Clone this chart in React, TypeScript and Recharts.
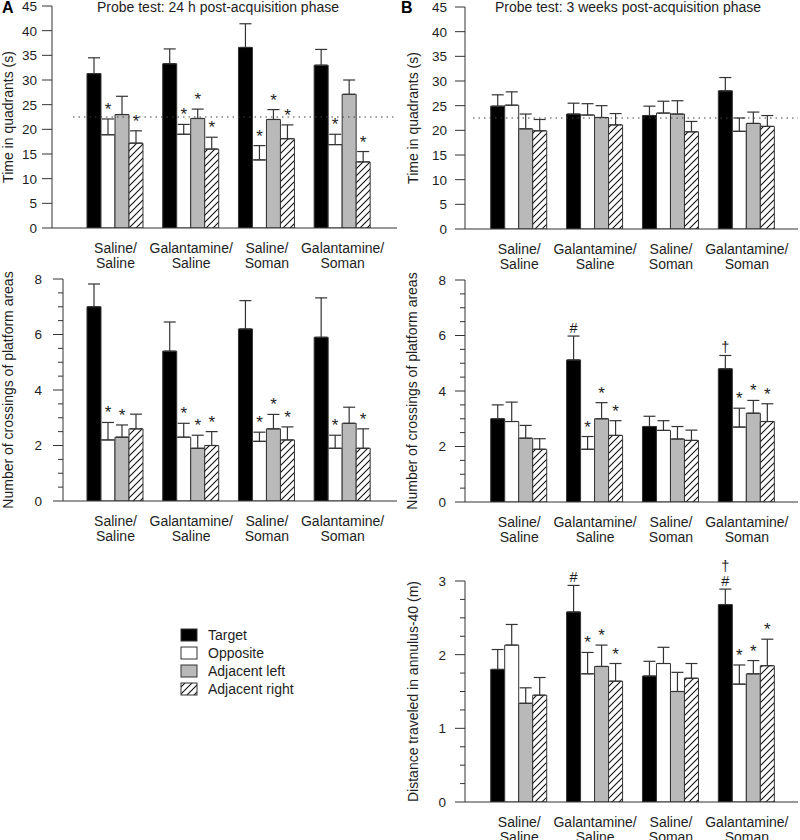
import React from "react";
import { BarChart, Bar, XAxis, YAxis, ErrorBar, LabelList, ReferenceLine } from "recharts";

const FONT = '"Liberation Sans", Arial, Helvetica, sans-serif';
const INK = "#1e1e1e";
const EDGE = "#333333";
const GRAY = "#b9b9b9";
const TXT = 14;

// ---------- data ----------
const categories = ["Saline/Saline", "Galantamine/Saline", "Saline/Soman", "Galantamine/Soman"];
const seriesNames = ["Target", "Opposite", "Adjacent left", "Adjacent right"];
const seriesKeys = ["target", "opposite", "adjLeft", "adjRight"];

const timeTicks = [0, 5, 10, 15, 20, 25, 30, 35, 40, 45];
const crossingTicks = [0, 0.5, 1, 1.5, 2, 2.5, 3, 3.5, 4, 4.5, 5, 5.5, 6, 6.5, 7, 7.5, 8];
const distanceTicks = [0, 0.25, 0.5, 0.75, 1, 1.25, 1.5, 1.75, 2, 2.25, 2.5, 2.75, 3];
const chanceLevel = 22.5;

// Panel A: time in quadrants, 24 h (rows: Target, Opposite, Adjacent left, Adjacent right)
const timeA_mean = [
  [31.3, 33.3, 36.6, 33.0],
  [18.9, 19.0, 13.8, 16.9],
  [23.0, 22.2, 22.0, 27.1],
  [17.2, 16.0, 18.1, 13.4],
];
const timeA_sem = [
  [3.2, 3.0, 4.8, 3.2],
  [3.2, 2.0, 2.9, 2.1],
  [3.7, 1.9, 2.0, 2.9],
  [2.5, 2.4, 2.8, 2.1],
];
const timeA_marks = [
  ["", "", "", ""],
  ["*", "*", "*", "*"],
  ["", "*", "*", ""],
  ["*", "*", "*", "*"],
];

// Panel B: time in quadrants, 3 weeks
const timeB_mean = [
  [24.9, 23.3, 23.0, 28.0],
  [25.1, 23.1, 23.5, 19.8],
  [20.3, 22.6, 23.3, 21.4],
  [19.9, 21.1, 19.7, 20.8],
];
const timeB_sem = [
  [2.3, 2.2, 1.9, 2.7],
  [2.7, 2.3, 2.4, 2.7],
  [3.0, 2.4, 2.7, 2.3],
  [2.3, 2.3, 2.1, 2.2],
];
const timeB_marks = [
  ["", "", "", ""],
  ["", "", "", ""],
  ["", "", "", ""],
  ["", "", "", ""],
];

// Panel A: crossings, 24 h
const crossA_mean = [
  [7.0, 5.4, 6.2, 5.9],
  [2.2, 2.3, 2.15, 1.9],
  [2.3, 1.9, 2.6, 2.8],
  [2.6, 2.0, 2.2, 1.9],
];
const crossA_sem = [
  [0.82, 1.05, 1.02, 1.42],
  [0.63, 0.5, 0.33, 0.47],
  [0.44, 0.47, 0.52, 0.58],
  [0.53, 0.5, 0.47, 0.7],
];
const crossA_marks = [
  ["", "", "", ""],
  ["*", "*", "*", "*"],
  ["*", "*", "*", ""],
  ["", "*", "*", "*"],
];

// Panel B: crossings, 3 weeks
const crossB_mean = [
  [3.0, 5.12, 2.72, 4.8],
  [2.9, 1.9, 2.58, 2.7],
  [2.3, 3.0, 2.27, 3.2],
  [1.9, 2.4, 2.22, 2.9],
];
const crossB_sem = [
  [0.5, 0.86, 0.37, 0.48],
  [0.7, 0.46, 0.35, 0.68],
  [0.46, 0.58, 0.45, 0.46],
  [0.38, 0.53, 0.37, 0.64],
];
const crossB_marks = [
  ["", "#", "", "\u2020"],
  ["", "*", "", "*"],
  ["", "*", "", "*"],
  ["", "*", "", "*"],
];

// Panel B: distance traveled in annulus-40
const distB_mean = [
  [1.8, 2.58, 1.71, 2.68],
  [2.13, 1.74, 1.88, 1.6],
  [1.34, 1.84, 1.5, 1.74],
  [1.45, 1.64, 1.68, 1.85],
];
const distB_sem = [
  [0.27, 0.36, 0.2, 0.21],
  [0.28, 0.29, 0.22, 0.26],
  [0.21, 0.29, 0.26, 0.18],
  [0.24, 0.24, 0.2, 0.36],
];
const distB_marks = [
  ["", "#", "", "\u2020\n#"],
  ["", "*", "", "*"],
  ["", "*", "", "*"],
  ["", "*", "", "*"],
];

// ---------- helpers ----------
type Row = Record<string, any>;

function buildRows(means: number[][], sems: number[][], marks: string[][]): Row[] {
  return categories.map((cat, i) => {
    const row: Row = { cat };
    seriesKeys.forEach((k, s) => {
      row[k] = means[s][i];
      row[k + "Sem"] = sems[s][i];
      row[k + "Mark"] = marks[s][i];
    });
    return row;
  });
}

const fills = ["#000000", "#ffffff", GRAY, "url(#hatchRight)"];

function CatTick(props: any) {
  const { x, y, payload } = props;
  const parts = String(payload.value).split("/");
  return (
    <g>
      <text x={x} y={y + 25} textAnchor="middle" fontSize={TXT} fontFamily={FONT} fill={INK}>
        {parts[0] + "/"}
      </text>
      <text x={x} y={y + 40} textAnchor="middle" fontSize={TXT} fontFamily={FONT} fill={INK}>
        {parts[1]}
      </text>
    </g>
  );
}

function makeValueTick(isMajor: (v: number) => boolean, labelGap: number) {
  return (props: any) => {
    const { x, y, payload } = props;
    const v = Number(payload.value);
    const major = isMajor(v);
    return (
      <g>
        <line x1={x - (major ? 10 : 5)} x2={x} y1={y} y2={y} stroke={EDGE} strokeWidth={1} />
        {major && (
          <text x={x - labelGap} y={y} dy="0.36em" textAnchor="end" fontSize={13.5} fontFamily={FONT} fill={INK}>
            {v}
          </text>
        )}
      </g>
    );
  };
}

function renderMark(p: any, rows: Row[], key: string) {
  const value = p.value;
  if (!value) return null;
  const idx = p.index;
  const row = rows[idx];
  if (!row) return null;
  const vb = p.viewBox && p.viewBox.width != null ? p.viewBox : p;
  const x = Number(vb.x);
  const y = Number(vb.y);
  const w = Number(vb.width);
  const h = Number(vb.height);
  const mean = Number(row[key]);
  const sem = Number(row[key + "Sem"]);
  const base = y + h;
  const capY = base - ((mean + sem) * h) / mean;
  const lines = String(value).split("\n");
  return (
    <g>
      {lines.map((t, i) => {
        const fromBottom = lines.length - 1 - i;
        const star = t === "*";
        const yb = capY - (star ? 4 : 3) - fromBottom * 15;
        return (
          <text
            key={i}
            x={x + w / 2}
            y={yb}
            textAnchor="middle"
            fontSize={star ? 17 : 14.5}
            fontFamily={FONT}
            fill={INK}
          >
            {t}
          </text>
        );
      })}
    </g>
  );
}

interface PanelProps {
  left: number;
  top: number;
  width: number;
  height: number;
  rows: Row[];
  yMax: number;
  ticks: number[];
  isMajor: (v: number) => boolean;
  yAxisWidth: number;
  labelGap: number;
  marginTop: number;
  marginRight: number;
  xHeight: number;
  padLeft: number;
  padRight: number;
  yTitle: string;
  yTitleX: number;
  refLine?: number;
  refInset?: number;
}

function Panel(pp: PanelProps) {
  const plotTop = pp.marginTop;
  const plotH = pp.height - pp.marginTop - pp.xHeight;
  const cy = plotTop + plotH / 2;
  const cx = pp.yTitleX;
  return (
    <div style={{ position: "absolute", left: pp.left, top: pp.top }}>
      <BarChart
        width={pp.width}
        height={pp.height}
        data={pp.rows}
        margin={{ top: pp.marginTop, right: pp.marginRight, bottom: 0, left: 0 }}
        barGap={0}
        barCategoryGap="12.4%"
        style={{ overflow: "visible" }}
      >
        <XAxis
          dataKey="cat"
          type="category"
          interval={0}
          tickLine={false}
          tickSize={0}
          tickMargin={0}
          axisLine={{ stroke: EDGE, strokeWidth: 1 }}
          height={pp.xHeight}
          padding={{ left: pp.padLeft, right: pp.padRight }}
          tick={<CatTick />}
        />
        <YAxis
          type="number"
          domain={[0, pp.yMax]}
          ticks={pp.ticks}
          interval={0}
          allowDataOverflow
          tickLine={false}
          tickSize={0}
          tickMargin={0}
          axisLine={{ stroke: EDGE, strokeWidth: 1 }}
          width={pp.yAxisWidth}
          tick={makeValueTick(pp.isMajor, pp.labelGap)}
          label={{
            value: pp.yTitle,
            content: () => (
              <text
                x={cx}
                y={cy}
                transform={`rotate(-90 ${cx} ${cy})`}
                textAnchor="middle"
                dominantBaseline="central"
                fontSize={TXT}
                fontFamily={FONT}
                fill={INK}
              >
                {pp.yTitle}
              </text>
            ),
          }}
        />
        {pp.refLine != null && (
          <ReferenceLine
            y={pp.refLine}
            shape={(sp: any) => (
              <line
                x1={Number(sp.x1) + (pp.refInset || 0)}
                y1={sp.y1}
                x2={sp.x2}
                y2={sp.y2}
                stroke="#444"
                strokeWidth={1}
                strokeDasharray="1.5 4"
              />
            )}
          />
        )}
        {seriesKeys.map((k, s) => (
          <Bar
            key={k}
            dataKey={k}
            name={seriesNames[s]}
            fill={fills[s]}
            stroke={EDGE}
            strokeWidth={1}
            isAnimationActive={false}
          >
            <ErrorBar
              dataKey={(d: any) => [0, d[k + "Sem"]]}
              width={6}
              stroke={EDGE}
              strokeWidth={1.2}
              direction="y"
              isAnimationActive={false}
            />
            <LabelList dataKey={k + "Mark"} content={(p: any) => renderMark(p, pp.rows, k)} />
          </Bar>
        ))}
      </BarChart>
    </div>
  );
}

const everyTick = () => true;
const evenTick = (v: number) => Math.abs(v % 2) < 1e-9;
const intTick = (v: number) => Math.abs(v - Math.round(v)) < 1e-9;

export default function App() {
  const rowsTimeA = buildRows(timeA_mean, timeA_sem, timeA_marks);
  const rowsTimeB = buildRows(timeB_mean, timeB_sem, timeB_marks);
  const rowsCrossA = buildRows(crossA_mean, crossA_sem, crossA_marks);
  const rowsCrossB = buildRows(crossB_mean, crossB_sem, crossB_marks);
  const rowsDistB = buildRows(distB_mean, distB_sem, distB_marks);

  const legendRows = [629, 647, 665, 683];

  return (
    <div
      style={{
        position: "absolute",
        left: 0,
        top: 0,
        width: 800,
        height: 840,
        overflow: "hidden",
        background: "#fff",
        fontFamily: FONT,
      }}
    >
      <svg width={0} height={0} style={{ position: "absolute" }}>
        <defs>
          <pattern id="hatchRight" patternUnits="userSpaceOnUse" width={7} height={7}>
            <rect width={7} height={7} fill="#fff" />
            <path d="M-1,1 L1,-1 M0,7 L7,0 M6,8 L8,6" stroke="#111" strokeWidth={1.1} />
          </pattern>
        </defs>
      </svg>

      <Panel
        left={0}
        top={0}
        width={400}
        height={275}
        rows={rowsTimeA}
        yMax={45}
        ticks={timeTicks}
        isMajor={everyTick}
        yAxisWidth={52}
        labelGap={15}
        marginTop={6}
        marginRight={3}
        xHeight={47}
        padLeft={25.6}
        padRight={16.5}
        yTitle="Time in quadrants (s)"
        yTitleX={8}
        refLine={chanceLevel}
        refInset={21}
      />
      <Panel
        left={400}
        top={0}
        width={400}
        height={275}
        rows={rowsTimeB}
        yMax={45}
        ticks={timeTicks}
        isMajor={everyTick}
        yAxisWidth={65}
        labelGap={18}
        marginTop={7}
        marginRight={2}
        xHeight={46}
        padLeft={16.3}
        padRight={13.2}
        yTitle="Time in quadrants (s)"
        yTitleX={13}
        refLine={chanceLevel}
        refInset={8}
      />
      <Panel
        left={0}
        top={270}
        width={400}
        height={280}
        rows={rowsCrossA}
        yMax={8}
        ticks={crossingTicks}
        isMajor={evenTick}
        yAxisWidth={63}
        labelGap={21}
        marginTop={9}
        marginRight={3}
        xHeight={49}
        padLeft={14.6}
        padRight={16.5}
        yTitle="Number of crossings of platform areas"
        yTitleX={7.5}
      />
      <Panel
        left={400}
        top={270}
        width={400}
        height={280}
        rows={rowsCrossB}
        yMax={8}
        ticks={crossingTicks}
        isMajor={evenTick}
        yAxisWidth={65}
        labelGap={19}
        marginTop={10}
        marginRight={2}
        xHeight={48}
        padLeft={16.3}
        padRight={13.2}
        yTitle="Number of crossings of platform areas"
        yTitleX={12}
      />
      <Panel
        left={400}
        top={545}
        width={400}
        height={300}
        rows={rowsDistB}
        yMax={3}
        ticks={distanceTicks}
        isMajor={intTick}
        yAxisWidth={65}
        labelGap={19}
        marginTop={36}
        marginRight={2}
        xHeight={43}
        padLeft={16.3}
        padRight={13.2}
        yTitle="Distance traveled in annulus-40 (m)"
        yTitleX={12.5}
      />

      <svg
        width={800}
        height={840}
        style={{ position: "absolute", left: 0, top: 0, pointerEvents: "none" }}
      >
        <text x={2} y={13} fontSize={16} fontWeight="bold" fontFamily={FONT} fill="#000">
          A
        </text>
        <text x={401} y={13} fontSize={16} fontWeight="bold" fontFamily={FONT} fill="#000">
          B
        </text>
        <text x={218} y={12} textAnchor="middle" fontSize={TXT} fontFamily={FONT} fill={INK}>
          Probe test: 24 h post-acquisition phase
        </text>
        <text x={628} y={12} textAnchor="middle" fontSize={TXT} fontFamily={FONT} fill={INK}>
          Probe test: 3 weeks post-acquisition phase
        </text>
        {seriesNames.map((name, i) => (
          <g key={name}>
            <rect
              x={181}
              y={legendRows[i]}
              width={16}
              height={12}
              fill={fills[i]}
              stroke={EDGE}
              strokeWidth={1}
            />
            <text x={208} y={legendRows[i] + 11} fontSize={TXT} fontFamily={FONT} fill={INK}>
              {name}
            </text>
          </g>
        ))}
      </svg>
    </div>
  );
}
